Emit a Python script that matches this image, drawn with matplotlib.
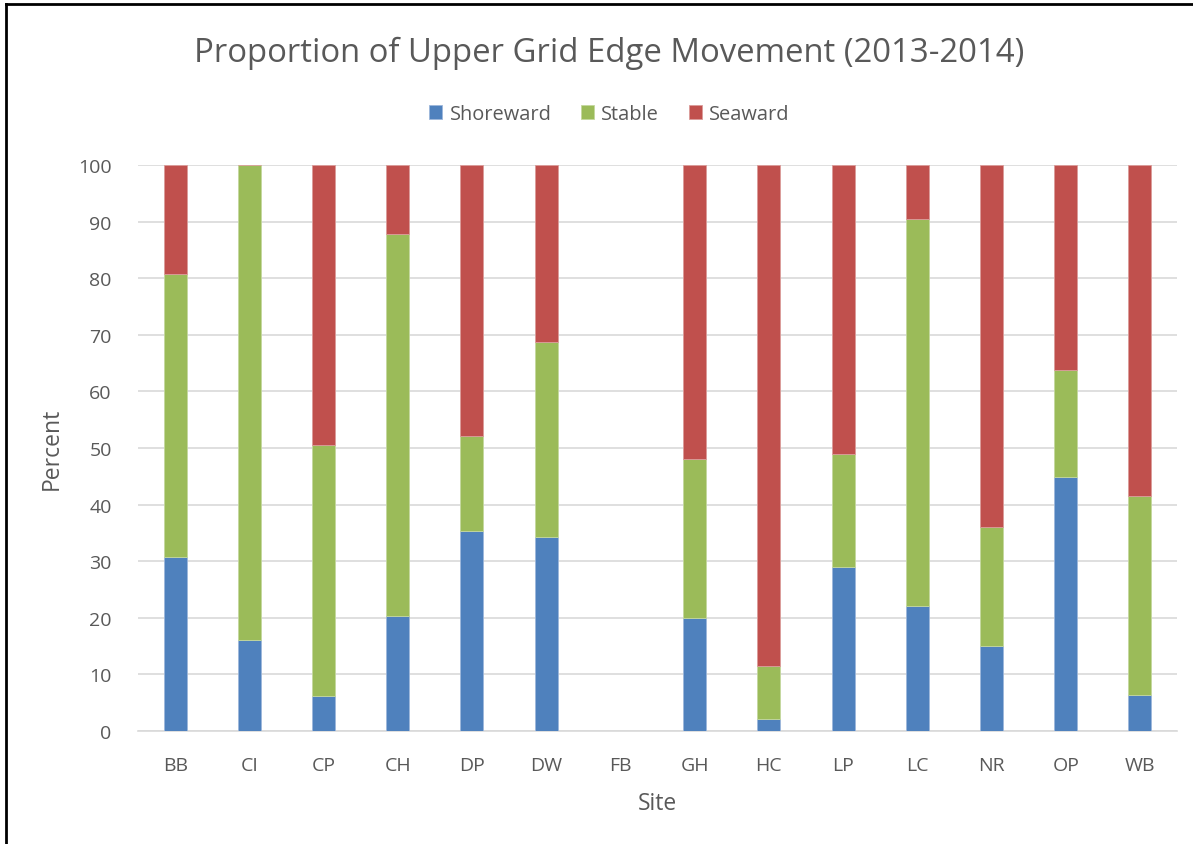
import matplotlib.pyplot as plt
from matplotlib.lines import Line2D
import numpy as np

# Upper grid edge movement per site, 2013-2014 (percent of grid edge)
sites = ["BB", "CI", "CP", "CH", "DP", "DW", "FB", "GH", "HC", "LP", "LC", "NR", "OP", "WB"]
shoreward = [30.7, 16.0, 6.2, 20.3, 35.3, 34.3, 0.0, 19.9, 2.2, 29.0, 22.1, 15.0, 44.8, 6.4]
stable = [50.1, 84.0, 44.3, 67.5, 16.8, 34.4, 0.0, 28.1, 9.2, 20.0, 68.4, 21.0, 18.9, 35.1]
seaward = [19.2, 0.0, 49.5, 12.2, 47.9, 31.3, 0.0, 52.0, 88.6, 51.0, 9.5, 64.0, 36.3, 58.5]

BLUE = "#4F81BD"
GREEN = "#9BBB59"
RED = "#C0504D"
TEXT = "#595959"
GRID = "#D9D9D9"

plt.rcParams["font.family"] = ["Open Sans", "DejaVu Sans"]

fig = plt.figure(figsize=(11.93, 8.45), dpi=100)
ax = fig.add_axes([0.1157, 0.1337, 0.8709, 0.6699])

x = np.arange(len(sites))
shore = np.array(shoreward)
stab = np.array(stable)
sea = np.array(seaward)
width = 0.31

ax.bar(x, shore, width, color=BLUE, edgecolor="#9DB7DB", linewidth=0.6, label="Shoreward", zorder=3)
ax.bar(x, stab, width, bottom=shore, color=GREEN, edgecolor="#C4D89E", linewidth=0.6, label="Stable", zorder=3)
ax.bar(x, sea, width, bottom=shore + stab, color=RED, edgecolor="#DB9C9A", linewidth=0.6, label="Seaward", zorder=3)

ax.set_xlim(-0.5, len(sites) - 0.5)
ax.set_ylim(0, 100)
ax.set_yticks(range(0, 101, 10))
ax.set_xticks(x)
ax.set_xticklabels(sites)
ax.tick_params(axis="both", length=0, labelsize=14, colors=TEXT)
ax.tick_params(axis="y", pad=19)
ax.tick_params(axis="x", pad=18)

ax.yaxis.grid(True, color=GRID, linewidth=1.2, zorder=0)
for side in ["top", "right", "left"]:
    ax.spines[side].set_visible(False)
ax.spines["bottom"].set_color(GRID)
ax.spines["bottom"].set_linewidth(1.2)

ax.set_ylabel("Percent", fontsize=16.5, color=TEXT, labelpad=10)
ax.set_xlabel("Site", fontsize=16.5, color=TEXT, labelpad=12)

fig.text(0.511, 0.937, "Proportion of Upper Grid Edge Movement (2013-2014)",
         ha="center", va="center", fontsize=23.7, color=TEXT)

fig.legend(loc="center", bbox_to_anchor=(0.511, 0.864), ncol=3, frameon=False,
           fontsize=14.4, labelcolor=TEXT, handlelength=0.65, handleheight=0.65,
           handletextpad=0.35, columnspacing=1.5)

# frame lines along the left and top edges
fig.add_artist(Line2D([0.0047, 0.0047], [0, 0.9935], transform=fig.transFigure, color="black", linewidth=2))
fig.add_artist(Line2D([0.0047, 1], [0.9935, 0.9935], transform=fig.transFigure, color="black", linewidth=2))

fig.savefig("out.png", dpi=100)
